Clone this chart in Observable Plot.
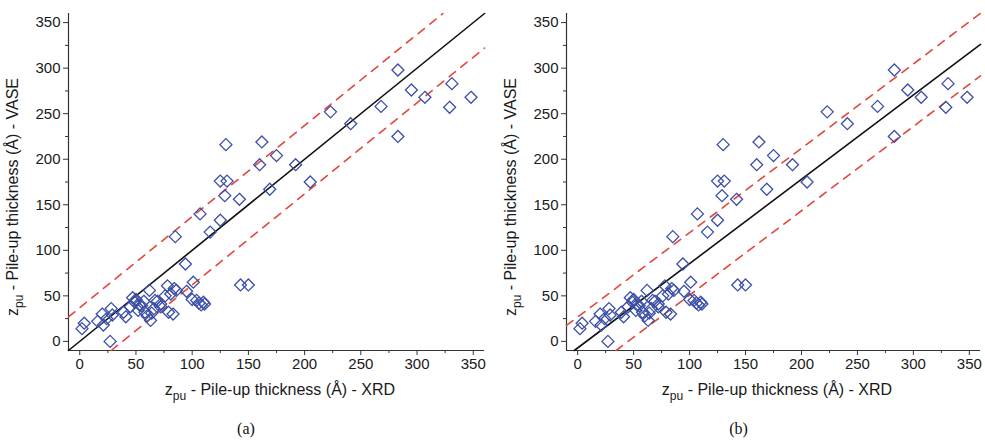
<!DOCTYPE html>
<html>
<head>
<meta charset="utf-8">
<script src="https://cdn.jsdelivr.net/npm/d3@7"></script>
<script src="https://cdn.jsdelivr.net/npm/@observablehq/plot@0.6"></script>
<style>
  html, body { margin: 0; padding: 0; background: #fff; }
  #wrap { display: flex; width: 985px; height: 440px; }
</style>
</head>
<body>
<div id="wrap"></div>
<script>
// XRD pile-up thickness (Å) and VASE pile-up thickness (Å), same data in both panels
const xrd  = [2, 4, 16, 20, 21, 24, 27, 28, 29, 39, 41, 45, 47, 49, 50, 52, 53, 55, 57, 58,
              60, 62, 63, 64, 66, 67, 69, 72, 72, 78, 79, 76, 81, 83, 84, 86, 85, 94, 95, 100,
              101, 104, 106, 108, 110, 111, 107, 116, 125, 143, 150, 125, 131, 129, 130, 142, 160, 162, 175, 169,
              192, 205, 223, 241, 268, 283, 283, 295, 307, 331, 329, 348];
const vase = [14, 20, 22, 30, 18, 25, 0, 36, 29, 32, 27, 38, 48, 43, 46, 34, 40, 39, 44, 32,
              28, 56, 23, 31, 36, 45, 44, 38, 41, 61, 32, 50, 52, 30, 58, 56, 115, 85, 55, 46,
              65, 45, 42, 40, 43, 41, 140, 120, 133, 62, 62, 176, 176, 160, 216, 156, 194, 219, 204, 167,
              194, 175, 252, 239, 258, 298, 225, 276, 268, 283, 257, 268];

// Fit lines: [slope, intercept] for the centre line, and the offsets of the dashed lines
const fitA = [1, 0];
const bandA = [37, -38];
const fitB = [0.926, -7.2];
const bandB = [34, -34.6];

const majorTicks = [0, 50, 100, 150, 200, 250, 300, 350];
const minorTicks = [25, 75, 125, 175, 225, 275, 325];
const captions = ["(a)", "(b)"];
const domain = [-10, 360];

const points = xrd.map((x, i) => ({x, y: vase[i]}));

function segment(m, b) {
  const x0 = Math.max(domain[0], (domain[0] - b) / m);
  const x1 = Math.min(domain[1], (domain[1] - b) / m);
  return [{x: x0, y: m * x0 + b}, {x: x1, y: m * x1 + b}];
}

function panel(fit, band, caption, w, ml, mr) {
  const [m, b] = fit;
  const plot = Plot.plot({
    width: w, height: 440,
    marginLeft: ml, marginRight: mr, marginTop: 13, marginBottom: 90,
    x: {domain, label: null},
    y: {domain, label: null},
    style: {fontFamily: "'Liberation Sans', Arial, sans-serif", fontSize: "15px", color: "#1a1a1a", background: "white", overflow: "visible"},
    marks: [
      Plot.axisX({ticks: majorTicks, tickSize: 5, tickPadding: 3, label: null, stroke: "#333"}),
      Plot.axisX({ticks: minorTicks, tickSize: 3, tickFormat: () => "", label: null, stroke: "#333"}),
      Plot.axisY({ticks: majorTicks, tickSize: 5, tickPadding: 3, label: null, stroke: "#333"}),
      Plot.axisY({ticks: minorTicks, tickSize: 3, tickFormat: () => "", label: null, stroke: "#333"}),
      Plot.ruleX([domain[0]], {stroke: "#333", strokeWidth: 1.2}),
      Plot.ruleY([domain[0]], {stroke: "#333", strokeWidth: 1.2}),
      Plot.line(segment(m, b + band[0]), {x: "x", y: "y", stroke: "#e3473a", strokeWidth: 1.6, strokeDasharray: "8,7"}),
      Plot.line(segment(m, b + band[1]), {x: "x", y: "y", stroke: "#e3473a", strokeWidth: 1.6, strokeDasharray: "8,7"}),
      Plot.line(segment(m, b), {x: "x", y: "y", stroke: "#111", strokeWidth: 1.6}),
      Plot.dot(points, {x: "x", y: "y", symbol: "diamond2", r: 5.4, stroke: "#3c4fa6", strokeWidth: 1.3, fill: "none"})
    ]
  });
  const svg = d3.select(plot);
  const cx = (ml + w - mr) / 2 + 4;
  const xl = svg.append("text")
    .attr("x", cx).attr("y", 395)
    .attr("text-anchor", "middle")
    .attr("font-size", 16).attr("fill", "#1a1a1a");
  xl.append("tspan").text("z");
  xl.append("tspan").attr("font-size", 12).attr("dy", 5).text("pu");
  xl.append("tspan").attr("dy", -5).text(" - Pile-up thickness (Å) - XRD");

  const yl = svg.append("text")
    .attr("transform", `translate(${ml - 50},197) rotate(-90)`)
    .attr("text-anchor", "middle")
    .attr("font-size", 16).attr("fill", "#1a1a1a");
  yl.append("tspan").text("z");
  yl.append("tspan").attr("font-size", 12).attr("dy", 5).text("pu");
  yl.append("tspan").attr("dy", -5).text(" - Pile-up thickness (Å) - VASE");

  svg.append("text")
    .attr("x", w / 2).attr("y", 434)
    .attr("text-anchor", "middle")
    .attr("font-family", "'Liberation Serif', 'Times New Roman', serif")
    .attr("font-size", 16).attr("fill", "#111")
    .text(caption);
  return plot;
}

const wrap = document.getElementById("wrap");
wrap.appendChild(panel(fitA, bandA, captions[0], 492, 68, 8));
wrap.appendChild(panel(fitB, bandB, captions[1], 493, 74, 5));
</script>
</body>
</html>
